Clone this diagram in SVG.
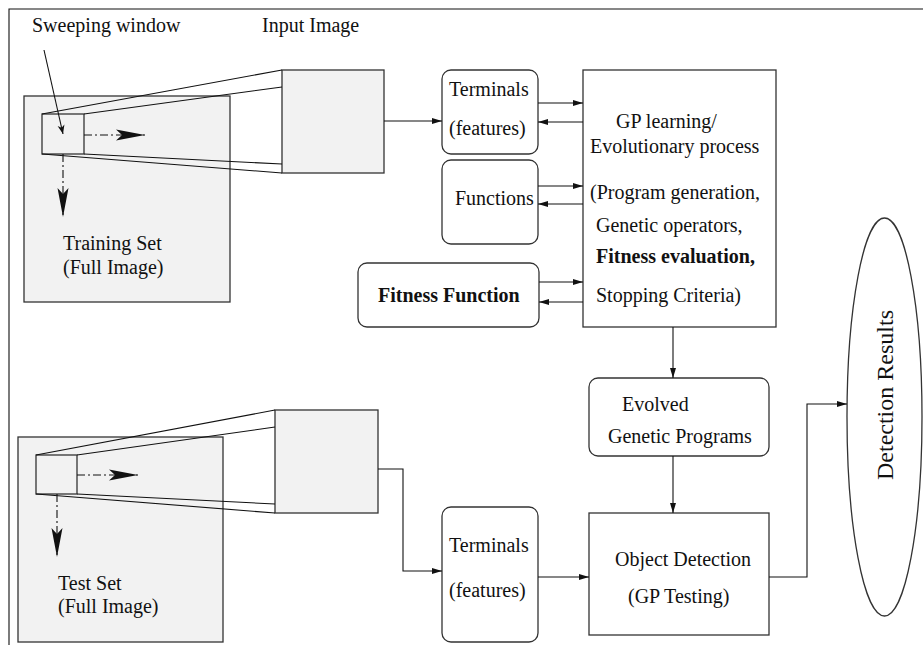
<svg xmlns="http://www.w3.org/2000/svg" width="923" height="645" viewBox="0 0 923 645">
<style>
text{font-family:"Liberation Serif","Times New Roman",serif;font-size:20px;fill:#111}
.b{font-weight:bold}
.img{fill:#f2f2f2;stroke:#333;stroke-width:1.3}
.box{fill:#fff;stroke:#333;stroke-width:1.3}
.ln{fill:none;stroke:#111;stroke-width:1.1}
.dd{fill:none;stroke:#111;stroke-width:1.1;stroke-dasharray:8 3 2 3}
</style>
<defs>
<marker id="ah" markerUnits="userSpaceOnUse" viewBox="0 0 10 6" markerWidth="10" markerHeight="6" refX="10" refY="3" orient="auto"><path d="M0,0 L10,3 L0,6 Z" fill="#111"/></marker>
<marker id="big" markerUnits="userSpaceOnUse" viewBox="0 0 30 12" markerWidth="30" markerHeight="12" refX="29" refY="6" orient="auto"><path d="M0,0.5 L29,6 L0,11.5 L6,6 Z" fill="#111"/></marker>
<marker id="sm" markerUnits="userSpaceOnUse" viewBox="0 0 10 8" markerWidth="10" markerHeight="8" refX="9" refY="4" orient="auto"><path d="M0,0.5 L9,4 L0,7.5 L2.5,4 Z" fill="#111"/></marker>
</defs>

<g id="frame"><path class="ln" d="M9,645 V9 H923"/></g>

<g id="training-set">
<rect class="img" x="24" y="96" width="206" height="206"/>
<rect class="img" x="42" y="114" width="42" height="40"/>
<text x="63" y="250">Training Set</text>
<text x="63" y="274">(Full Image)</text>
</g>
<g id="input-image-1">
<rect class="img" x="282" y="70" width="102" height="103"/>
</g>
<g id="projection-1">
<path class="ln" d="M42,114 L282,70 M84,114 L282,87 M42,154 L282,173 M84,154 L282,164"/>
<path class="dd" d="M84,135 H145" marker-end="url(#big)"/>
<path class="dd" d="M63,154 V217" marker-end="url(#big)"/>
</g>
<g id="labels-top">
<text x="32" y="32">Sweeping window</text>
<text x="262" y="32">Input Image</text>
<path class="ln" d="M44,50 L63,134" marker-end="url(#sm)"/>
</g>

<g id="test-set">
<rect class="img" x="18" y="437" width="205" height="205"/>
<rect class="img" x="36" y="455" width="41" height="39"/>
<text x="58" y="590">Test Set</text>
<text x="58" y="613">(Full Image)</text>
</g>
<g id="input-image-2">
<rect class="img" x="275" y="410" width="103" height="103"/>
</g>
<g id="projection-2">
<path class="ln" d="M36,455 L275,410 M77,455 L275,427 M36,494 L275,513 M77,494 L275,504"/>
<path class="dd" d="M77,475 H138" marker-end="url(#big)"/>
<path class="dd" d="M57,494 V557" marker-end="url(#big)"/>
</g>

<g id="terminals-1">
<rect class="box" x="442" y="70" width="96" height="84" rx="9"/>
<text x="449" y="96">Terminals</text>
<text x="449" y="135">(features)</text>
</g>
<g id="functions">
<rect class="box" x="442" y="160" width="96" height="84" rx="9"/>
<text x="455" y="205">Functions</text>
</g>
<g id="fitness-function">
<rect class="box" x="358" y="263" width="181" height="64" rx="9"/>
<text class="b" x="378" y="302">Fitness Function</text>
</g>
<g id="gp-learning">
<rect class="box" x="583" y="70" width="193" height="257"/>
<text x="616" y="128">GP learning/</text>
<text x="590" y="153">Evolutionary process</text>
<text x="590" y="199">(Program generation,</text>
<text x="596" y="232">Genetic operators,</text>
<text class="b" x="596" y="263">Fitness evaluation,</text>
<text x="596" y="302">Stopping Criteria)</text>
</g>
<g id="evolved-programs">
<rect class="box" x="589" y="378" width="180" height="78" rx="9"/>
<text x="622" y="411">Evolved</text>
<text x="608" y="443">Genetic Programs</text>
</g>
<g id="terminals-2">
<rect class="box" x="442" y="507" width="96" height="135" rx="9"/>
<text x="449" y="552">Terminals</text>
<text x="449" y="597">(features)</text>
</g>
<g id="object-detection">
<rect class="box" x="589" y="513" width="180" height="122"/>
<text x="615" y="566">Object Detection</text>
<text x="628" y="603">(GP Testing)</text>
</g>
<g id="detection-results">
<ellipse class="box" cx="884.5" cy="417" rx="37.5" ry="199"/>
<text transform="translate(893,480) rotate(-90)" style="font-size:24px">Detection Results</text>
</g>

<g id="connectors">
<path class="ln" d="M384,121 H442" marker-end="url(#ah)"/>
<path class="ln" d="M538,103 H583" marker-end="url(#ah)"/>
<path class="ln" d="M583,122 H538" marker-end="url(#ah)"/>
<path class="ln" d="M538,186 H583" marker-end="url(#ah)"/>
<path class="ln" d="M583,204 H538" marker-end="url(#ah)"/>
<path class="ln" d="M539,282 H583" marker-end="url(#ah)"/>
<path class="ln" d="M583,302 H539" marker-end="url(#ah)"/>
<path class="ln" d="M673,327 V378" marker-end="url(#ah)"/>
<path class="ln" d="M673,456 V513" marker-end="url(#ah)"/>
<path class="ln" d="M378,469 H403 V571 H442" marker-end="url(#ah)"/>
<path class="ln" d="M538,577 H589" marker-end="url(#ah)"/>
<path class="ln" d="M769,577 H807 V404 H847" marker-end="url(#ah)"/>
</g>
</svg>
